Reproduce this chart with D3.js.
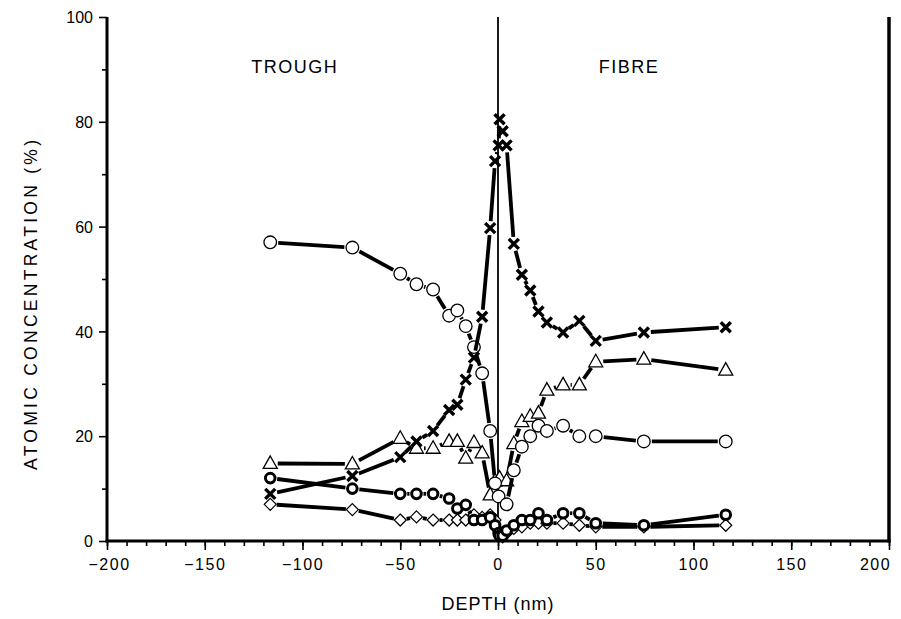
<!DOCTYPE html>
<html>
<head>
<meta charset="utf-8">
<script src="https://cdn.jsdelivr.net/npm/d3@7"></script>
<style>
  html, body { margin: 0; padding: 0; background: #fff; }
  svg { display: block; }
  text { font-family: "Liberation Sans", Arial, Helvetica, sans-serif; fill: #000; }
</style>
</head>
<body>
<svg id="chart" width="901" height="619"></svg>
<script>
// ---------- data ----------
const depths = [-116.5, -74.5, -50, -41.7, -33.2, -25, -20.8, -16.5, -12.3, -8.1, -4, -1.5, 0.3, 0.8, 2.4, 4.4, 8.1, 12.2, 16.5, 20.7, 25, 33.3, 41.6, 50, 74.6, 116.5];

const circleValues   = [57, 56, 51, 49, 48, 43, 44, 41, 37, 32, 21, 11, 8.5, null, null, 7, 13.5, 18, 20, 22, 21, 22, 20, 20, 19, 19];
const crossValues    = [9, 12.4, 16, 19, 21, 25, 26, 30.8, 35, 42.8, 59.7, 72.5, 75.5, 80.5, 78.2, 75.5, 56.7, 50.8, 47.8, 43.8, 41.7, 39.8, 42, 38.2, 39.8, 40.8];
const triangleValues = [14.8, 14.7, 19.6, 17.7, 17.7, 19, 19, 15.8, 18.8, 16.8, 8.8, 11.5, null, 12, null, 11.5, 18.6, 22.8, 23.8, 24.4, 28.8, 29.8, 29.8, 34.2, 34.7, 32.6];
const ringValues     = [12, 10, 9, 9, 9, 8.1, 6.2, 6.9, 4, 4, 4.5, 3, 1.5, 1, 1, 2, 3, 4, 4, 5.3, 4, 5.3, 5.3, 3.4, 3, 5];
const diamondValues  = [7, 6, 4, 4.6, 4, 4, 4, 4, 5, 4.5, 5, 4, 2, 1, 0.8, 1.5, 2.4, 2.7, 3.4, 3.4, 3.4, 3.4, 3, 2.7, 2.7, 3];

const xTickValues = [-200, -150, -100, -50, 0, 50, 100, 150, 200];
const yTickValues = [0, 20, 40, 60, 80, 100];
const regionLabels = [{ text: "TROUGH", depth: -104 }, { text: "FIBRE", depth: 67 }];

// ---------- layout ----------
const svg = d3.select("#chart");
const x = d3.scaleLinear().domain([-200, 200]).range([107, 889]);
const y = d3.scaleLinear().domain([0, 100]).range([541, 17]);

// ---------- axes ----------
const fmt = d => d < 0 ? "\u2212" + Math.abs(d) : String(d);

const xMinor = svg.append("g").attr("transform", `translate(0,${y(0)})`)
  .call(d3.axisBottom(x).tickValues(d3.range(-200, 201, 10)).tickSize(5).tickFormat(""));
const xMajor = svg.append("g").attr("transform", `translate(0,${y(0)})`)
  .call(d3.axisBottom(x).tickValues(xTickValues).tickSize(9).tickPadding(9).tickFormat(fmt));
const yMinor = svg.append("g").attr("transform", `translate(${x(-200)},0)`)
  .call(d3.axisLeft(y).tickValues(d3.range(10, 100, 20)).tickSize(5).tickFormat(""));
const yMajor = svg.append("g").attr("transform", `translate(${x(-200)},0)`)
  .call(d3.axisLeft(y).tickValues(yTickValues).tickSize(8).tickPadding(6).tickFormat(d => d));

[xMinor, xMajor, yMinor, yMajor].forEach(g => {
  g.select(".domain").remove();
  g.selectAll(".tick line").attr("stroke", "#000").attr("stroke-width", 1.6);
  g.selectAll(".tick text").style("font-size", "16px").attr("fill", "#000")
    .style("font-family", '"Liberation Sans", Arial, sans-serif');
});
xMajor.selectAll(".tick text").style("letter-spacing", "1.5px")
  .attr("dx", d => d === 200 ? "-14px" : (d === -200 ? "2px" : "0"));
yMajor.selectAll(".tick text").attr("dy", "0.36em");

// frame: left, bottom, right (no top)
const frame = svg.append("g").attr("stroke", "#000").attr("fill", "none");
frame.append("line").attr("x1", x(-200)).attr("x2", x(-200)).attr("y1", y(100)).attr("y2", y(0) + 1.5).attr("stroke-width", 3);
frame.append("line").attr("x1", x(-200) - 1.5).attr("x2", x(200) + 1.5).attr("y1", y(0)).attr("y2", y(0)).attr("stroke-width", 3);
frame.append("line").attr("x1", x(200)).attr("x2", x(200)).attr("y1", y(100)).attr("y2", y(0) + 1.5).attr("stroke-width", 3.5);
// trough / fibre divider
frame.append("line").attr("x1", x(0)).attr("x2", x(0)).attr("y1", y(100)).attr("y2", y(0)).attr("stroke-width", 1.8);

// ---------- series ----------
function pts(vals) {
  return depths.map((d, i) => ({ d, v: vals[i] })).filter(p => p.v !== null);
}

function drawSeries(vals, gap, marker) {
  const p = pts(vals).map(q => ({ px: x(q.d), py: y(q.v) }));
  const g = svg.append("g");
  for (let i = 0; i < p.length - 1; i++) {
    const a = p[i], b = p[i + 1];
    const dx = b.px - a.px, dy = b.py - a.py;
    const len = Math.hypot(dx, dy);
    if (len <= 2 * gap + 1) continue;
    const ux = dx / len, uy = dy / len;
    g.append("line")
      .attr("x1", a.px + ux * gap).attr("y1", a.py + uy * gap)
      .attr("x2", b.px - ux * gap).attr("y2", b.py - uy * gap)
      .attr("stroke", "#000").attr("stroke-width", 3.8).attr("stroke-linecap", "butt");
  }
  const m = g.selectAll("g.m").data(p).join("g").attr("class", "m")
    .attr("transform", q => `translate(${q.px},${q.py})`);
  marker(m);
}

// diamonds
drawSeries(diamondValues, 6.5, m => m.append("path")
  .attr("d", "M0,-6L6,0L0,6L-6,0Z")
  .attr("fill", "#fff").attr("stroke", "#000").attr("stroke-width", 1.2));

// bold rings
drawSeries(ringValues, 7, m => m.append("circle").attr("r", 4.8)
  .attr("fill", "#fff").attr("stroke", "#000").attr("stroke-width", 3));

// triangles
drawSeries(triangleValues, 7.5, m => m.append("path")
  .attr("d", "M0,-7.5L7,5L-7,5Z")
  .attr("fill", "#fff").attr("stroke", "#000").attr("stroke-width", 1.3));

// open circles
drawSeries(circleValues, 8, m => m.append("circle").attr("r", 6.3)
  .attr("fill", "#fff").attr("stroke", "#000").attr("stroke-width", 1.3));

// crosses
drawSeries(crossValues, 7, m => m.append("path")
  .attr("d", "M-5,-5L5,5M5,-5L-5,5")
  .attr("fill", "none").attr("stroke", "#000").attr("stroke-width", 3.4));

// ---------- labels ----------
svg.selectAll("text.region").data(regionLabels).join("text")
  .attr("class", "region")
  .attr("x", d => x(d.depth)).attr("y", 73)
  .attr("text-anchor", "middle")
  .style("font-size", "18px")
  .style("letter-spacing", "1.5px")
  .text(d => d.text);

svg.append("text")
  .attr("transform", `translate(37,${(y(0) + y(100)) / 2 + 26}) rotate(-90)`)
  .attr("text-anchor", "middle")
  .attr("textLength", 330)
  .attr("lengthAdjust", "spacing")
  .style("font-size", "17.5px")
  .text("ATOMIC  CONCENTRATION  (%)");

svg.append("text")
  .attr("x", x(0)).attr("y", 610)
  .attr("text-anchor", "middle")
  .style("font-size", "18px")
  .style("letter-spacing", "1px")
  .text("DEPTH (nm)");
</script>
</body>
</html>
